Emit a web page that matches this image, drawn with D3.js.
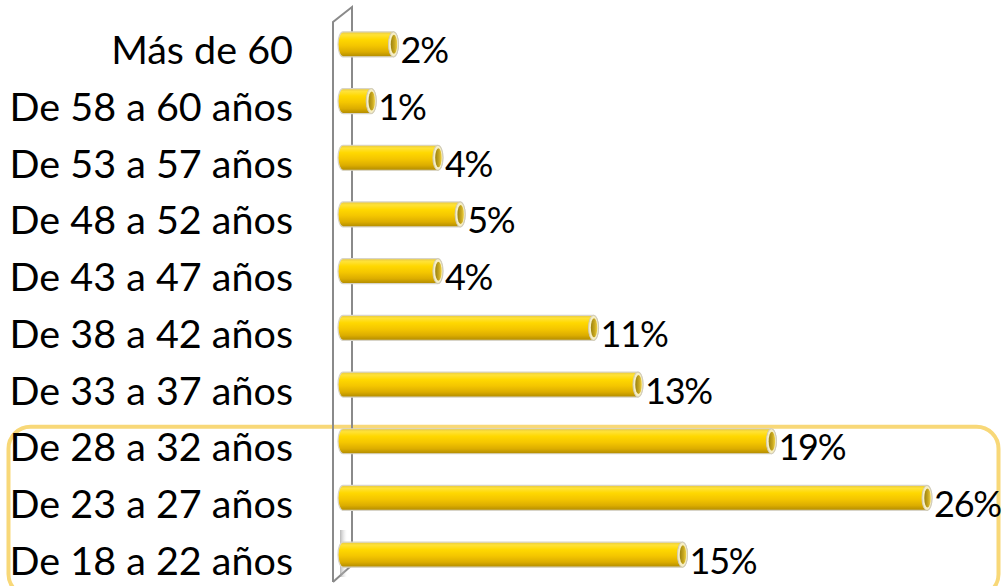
<!DOCTYPE html>
<html>
<head>
<meta charset="utf-8">
<script src="https://cdn.jsdelivr.net/npm/d3@7"></script>
<style>
  body{margin:0;background:#fff;}
  text{font-family:Lato, "Open Sans", sans-serif;fill:#000;}
</style>
</head>
<body>
<svg id="chart" width="1005" height="586"></svg>
<script>
// data, top row first
const categories = ['Más de 60','De 58 a 60 años','De 53 a 57 años','De 48 a 52 años','De 43 a 47 años',
                    'De 38 a 42 años','De 33 a 37 años','De 28 a 32 años','De 23 a 27 años','De 18 a 22 años'];
const values = [2,1,4,5,4,11,13,19,26,15];
const highlighted = ['De 28 a 32 años','De 23 a 27 años','De 18 a 22 años'];

const svg = d3.select('#chart');
const defs = svg.append('defs');

const y = d3.scaleBand().domain(categories).range([16,583]).padding(0);
const x = d3.scaleLinear().domain([0,26]).range([349,927]);
const barH = 25, capRx = 5, depth = 11;
const cy = c => y(c) + y.bandwidth()/2;

// cylinder body gradient
const g1 = defs.append('linearGradient').attr('id','cyl').attr('x1',0).attr('y1',0).attr('x2',0).attr('y2',1);
[[0,'#e8c83c'],[0.12,'#ffe236'],[0.3,'#ffd800'],[0.55,'#f4c600'],[0.8,'#dcad00'],[1,'#b08a00']]
  .forEach(([o,c])=>g1.append('stop').attr('offset',o).attr('stop-color',c));
const g2 = defs.append('linearGradient').attr('id','hole').attr('x1',0).attr('y1',0).attr('x2',1).attr('y2',0);
[[0,'#9c820e'],[0.6,'#c8a820'],[1,'#efd040']].forEach(([o,c])=>g2.append('stop').attr('offset',o).attr('stop-color',c));
const g3 = defs.append('linearGradient').attr('id','shade').attr('x1',0).attr('y1',0).attr('x2',1).attr('y2',0);
[[0,'#999',0.7],[1,'#ddd',0]].forEach(([o,c,a])=>g3.append('stop').attr('offset',o).attr('stop-color',c).attr('stop-opacity',a));

// highlight frame
const hl = highlighted.map(cy);
svg.append('rect')
  .attr('x',8.5).attr('y',d3.min(hl)-barH/2-2)
  .attr('width',990).attr('height',d3.max(hl)-d3.min(hl)+barH+31)
  .attr('rx',22).attr('ry',22)
  .attr('fill','none').attr('stroke','#f8d878').attr('stroke-width',4);

// 3d wall
const xf = 333, xb = 352;
svg.append('path')
  .attr('d',`M${xf},582 L${xf},22 L${xb},7 L${xb},565 L${xf},582`)
  .attr('fill','none').attr('stroke','#8a8a8a').attr('stroke-width',2);
svg.append('rect').attr('x',340).attr('y',530).attr('width',7).attr('height',47).attr('fill','url(#shade)');

// bars
const bars = svg.append('g').selectAll('g').data(categories).join('g');
bars.append('path')
  .attr('d',(c,i)=>{
    const x0 = x(0)-depth, x1 = x(values[i]), t = cy(c)-barH/2, b = cy(c)+barH/2, r = barH/2;
    return `M${x0+capRx},${t} L${x1},${t} A${capRx},${r} 0 0 1 ${x1},${b} L${x0+capRx},${b} A${capRx},${r} 0 0 1 ${x0+capRx},${t}Z`;
  })
  .attr('fill','url(#cyl)').attr('stroke','#d8d4c8').attr('stroke-width',1.2);
bars.append('ellipse')
  .attr('cx',(c,i)=>x(values[i])).attr('cy',cy)
  .attr('rx',capRx).attr('ry',barH/2)
  .attr('fill','#f7efc4').attr('stroke','#cfcab8').attr('stroke-width',1);
bars.append('ellipse')
  .attr('cx',(c,i)=>x(values[i])+0.5).attr('cy',cy)
  .attr('rx',3.2).attr('ry',barH/2-3)
  .attr('fill','url(#hole)');

// category labels
svg.append('g').selectAll('text').data(categories).join('text')
  .attr('x',293).attr('y',c=>cy(c)+20)
  .attr('text-anchor','end').style('font-size','39.5px')
  .text(c=>c);

// value labels
svg.append('g').selectAll('text').data(categories).join('text')
  .attr('x',(c,i)=>x(values[i])+7).attr('y',c=>cy(c)+19)
  .style('font-size','36px').style('letter-spacing','-1.2px')
  .text((c,i)=>values[i]+'%');
</script>
</body>
</html>
